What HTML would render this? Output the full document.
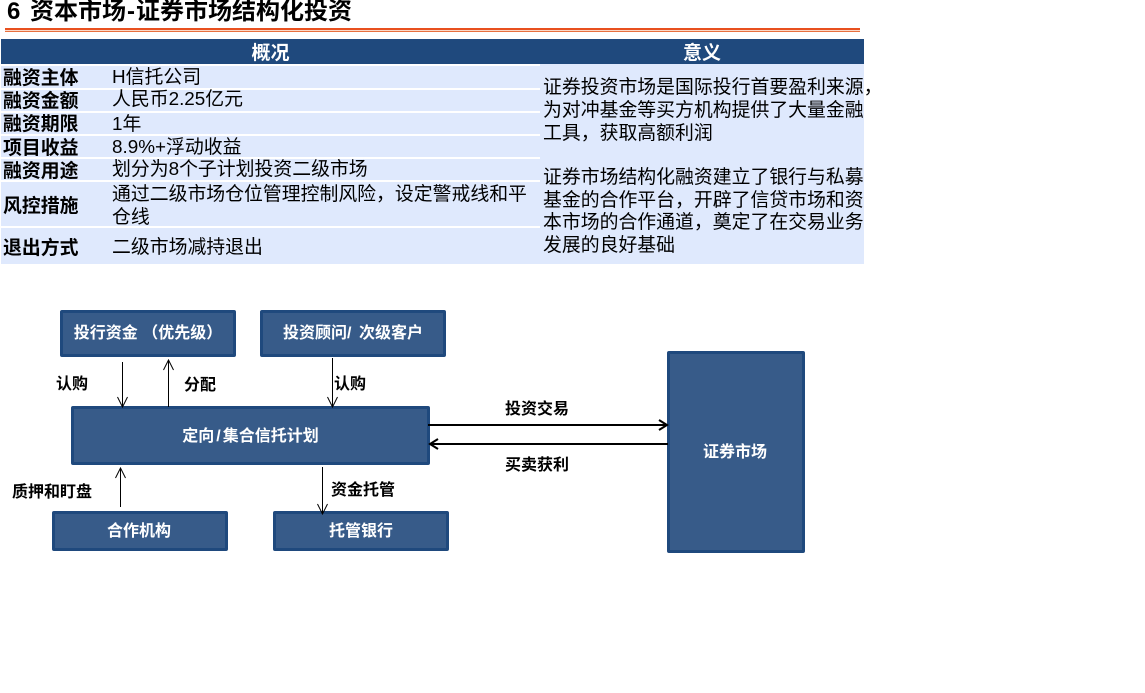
<!DOCTYPE html>
<html lang="zh">
<head>
<meta charset="utf-8">
<style>
html,body{margin:0;padding:0;background:#fff;}
#p{position:relative;width:1145px;height:693px;overflow:hidden;background:#fff;font-family:"Liberation Sans","Noto Sans CJK SC",sans-serif;color:#000;}
#p div{position:absolute;white-space:nowrap;}
.bar{background:#dfe9fd;left:1px;}
.hd{background:#1f497d;color:#fff;font-weight:bold;font-size:19px;line-height:29px;text-align:center;top:39px;height:25px;overflow:hidden;}
.l{left:3px;font-weight:bold;font-size:18.88px;line-height:22px;}
.v{left:112px;font-size:18.88px;line-height:22px;}
.r{left:543px;font-size:18.88px;line-height:23px;}
.b{box-sizing:border-box;background:#375b89;border:3px solid #1f497d;border-radius:2px;color:#fff;font-weight:bold;font-size:16px;display:flex;align-items:center;justify-content:center;white-space:pre;}
.b span{position:relative;top:-2px;}
.t{font-size:16px;font-weight:bold;line-height:20px;}
</style>
</head>
<body>
<div id="p">
<div style="left:7px;top:-5px;font-size:24px;font-weight:bold;line-height:34px;word-spacing:3px;">6 资本市场<span style="margin:0 1px;">-</span>证券市场结构化投资</div>
<div style="left:5px;top:28px;width:855px;height:2px;background:#e8501f;"></div>
<div style="left:5px;top:30px;width:855px;height:1px;background:#fbd9c8;"></div>
<div style="left:5px;top:31px;width:855px;height:1px;background:#e8703f;"></div>

<div class="hd" style="left:1px;width:539px;">概况</div>
<div class="hd" style="left:540px;width:324px;">意义</div>

<div class="bar" style="top:66px;height:22px;width:863px;"></div>
<div class="bar" style="top:90px;height:21px;width:863px;"></div>
<div class="bar" style="top:113px;height:21px;width:863px;"></div>
<div class="bar" style="top:136px;height:21px;width:863px;"></div>
<div class="bar" style="top:159px;height:21px;width:863px;"></div>
<div class="bar" style="top:182px;height:44px;width:863px;"></div>
<div class="bar" style="top:228px;height:36px;width:863px;"></div>
<div style="left:540px;top:64px;width:324px;height:200px;background:#dfe9fd;"></div>

<div class="l" style="top:67px;">融资主体</div><div class="v" style="top:66px;">H信托公司</div>
<div class="l" style="top:90px;">融资金额</div><div class="v" style="top:88px;">人民币2.25亿元</div>
<div class="l" style="top:113px;">融资期限</div><div class="v" style="top:113px;">1年</div>
<div class="l" style="top:137px;">项目收益</div><div class="v" style="top:136px;">8.9%+浮动收益</div>
<div class="l" style="top:160px;">融资用途</div><div class="v" style="top:158px;">划分为8个子计划投资二级市场</div>
<div class="l" style="top:195px;">风控措施</div>
<div class="v" style="top:183px;">通过二级市场仓位管理控制风险，设定警戒线和平</div>
<div class="v" style="top:206px;">仓线</div>
<div class="l" style="top:237px;">退出方式</div><div class="v" style="top:236px;">二级市场减持退出</div>

<div class="r" style="top:75px;">证券投资市场是国际投行首要盈利来源，</div>
<div class="r" style="top:98px;">为对冲基金等买方机构提供了大量金融</div>
<div class="r" style="top:121px;">工具，获取高额利润</div>
<div class="r" style="top:165px;">证券市场结构化融资建立了银行与私募</div>
<div class="r" style="top:188px;">基金的合作平台，开辟了信贷市场和资</div>
<div class="r" style="top:210px;">本市场的合作通道，奠定了在交易业务</div>
<div class="r" style="top:233px;">发展的良好基础</div>

<div class="b" style="left:60px;top:310px;width:176px;height:47px;"><span style="top:-3px;left:0;">投行资金 （优先级）</span></div>
<div class="b" style="left:260px;top:310px;width:186px;height:47px;"><span style="top:-3px;">投资顾问/&nbsp;&thinsp;次级客户</span></div>
<div class="b" style="left:71px;top:406px;width:359px;height:59px;"><span>定向<span style="margin:0 2px;top:0;">/</span>集合信托计划</span></div>
<div class="b" style="left:52px;top:511px;width:176px;height:40px;"><span style="left:-1px;">合作机构</span></div>
<div class="b" style="left:273px;top:511px;width:176px;height:40px;"><span>托管银行</span></div>
<div class="b" style="left:667px;top:351px;width:138px;height:202px;"><span style="left:-1px;">证券市场</span></div>

<svg style="position:absolute;left:0;top:0;" width="1145" height="693" fill="none" stroke="#000">
<path d="M122.500 362V407M117.500 397L122.500 407L127.500 397"/>
<path d="M168.500 407V360M163.500 370L168.500 360L173.500 370"/>
<path d="M332.500 358V407M327.500 397L332.500 407L337.500 397"/>
<path d="M120.500 507V468M115.500 478L120.500 468L125.500 478"/>
<path d="M322.500 467V514M317.500 504L322.500 514L327.500 504"/>
<path stroke-width="2" d="M428 425H667M659 420L667 425L659 430"/>
<path stroke-width="2" d="M668 444H430M438 439L430 444L438 449"/>
</svg>

<div class="t" style="left:56px;top:375px;">认购</div>
<div class="t" style="left:184px;top:376px;">分配</div>
<div class="t" style="left:334px;top:375px;">认购</div>
<div class="t" style="left:12px;top:483px;">质押和盯盘</div>
<div class="t" style="left:331px;top:481px;">资金托管</div>
<div class="t" style="left:505px;top:400px;">投资交易</div>
<div class="t" style="left:505px;top:456px;">买卖获利</div>
</div>
</body>
</html>
